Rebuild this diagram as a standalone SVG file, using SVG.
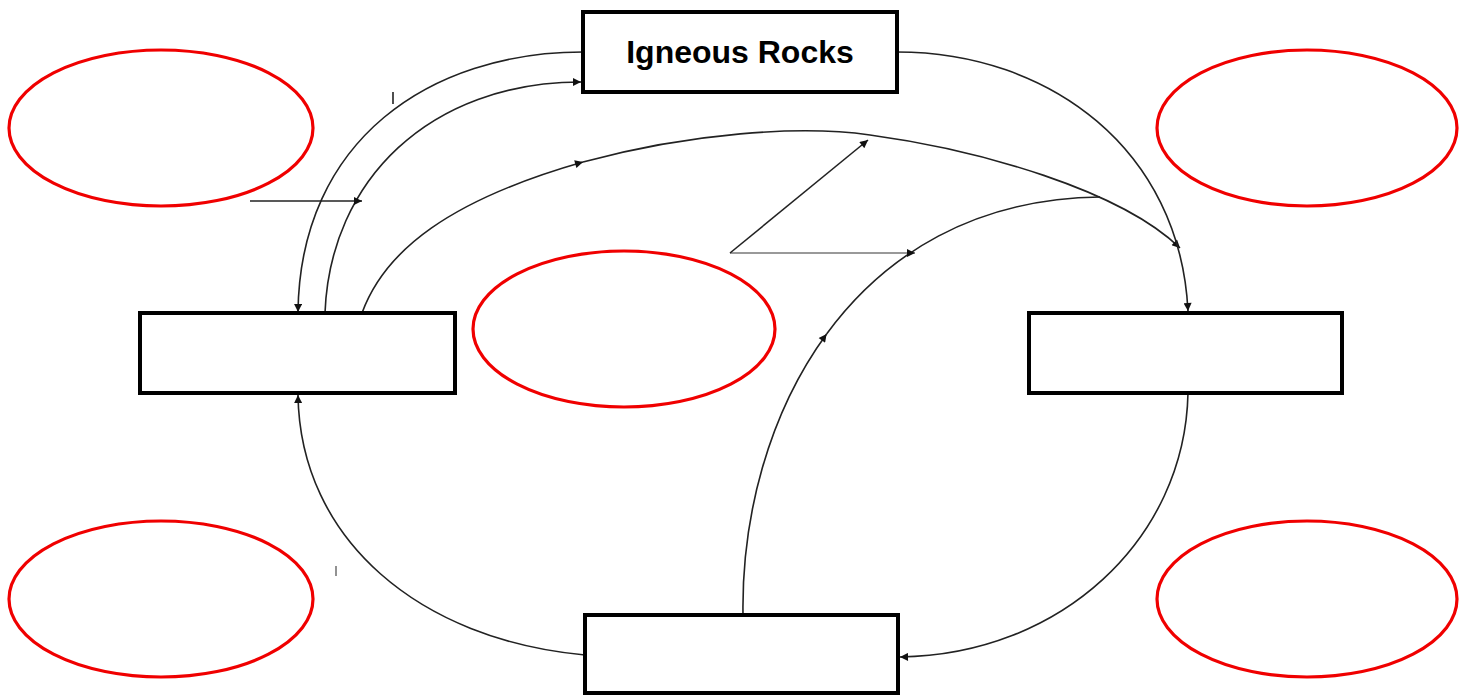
<svg xmlns="http://www.w3.org/2000/svg" width="1470" height="696" viewBox="0 0 1470 696">
<style>
.box{fill:#fff;stroke:#000;stroke-width:4}
.oval{fill:none;stroke:#f00000;stroke-width:3.2}
.con{fill:none;stroke:#222;stroke-width:1.6}
.grey{stroke:#777}
.lbl{font-family:"Liberation Sans",Arial,sans-serif;font-weight:bold;font-size:32px;fill:#000}
</style>
<defs>
<marker id="ah" viewBox="0 0 10 10" refX="10" refY="5" markerWidth="11" markerHeight="8" markerUnits="userSpaceOnUse" orient="auto">
<path d="M0,0 L10,5 L0,10 z" fill="#111"/>
</marker>
</defs>
<rect width="1470" height="696" fill="#fff"/>
<g id="connectors">
<path class="con" d="M583,52 C430,52 300,140 298,312" marker-end="url(#ah)"/>
<path class="con" d="M325,313 C330,180 430,82 581,82" marker-end="url(#ah)"/>
<path class="con" d="M250,201 L362,201" marker-end="url(#ah)"/>
<path class="con" d="M362,313 C385,250 450,200 583,162" marker-end="url(#ah)"/>
<path class="con" d="M583,162 C690,133 800,125 870,135 C980,150 1120,190 1180,248" marker-end="url(#ah)"/>
<path class="con" d="M897,52 C1050,52 1180,150 1188,311" marker-end="url(#ah)"/>
<path class="con" d="M743,615 C741.5,517.5 768.25,413.75 826.6,334" marker-end="url(#ah)"/>
<path class="con" d="M826.6,334 C885,254.25 975,198.5 1100,197"/>
<path class="con grey" d="M730,253 L915,253" marker-end="url(#ah)"/>
<path class="con" d="M730,253 L868,140" marker-end="url(#ah)"/>
<path class="con" d="M1188,393 C1185,540 1060,655 900,657" marker-end="url(#ah)"/>
<path class="con" d="M585,655 C420,640 300,540 298,395" marker-end="url(#ah)"/>
<path class="con" d="M393,92 L393,104"/>
<path class="con grey" d="M336,566 L336,576"/>
</g>
<g id="igneous"><rect class="box" x="583" y="12" width="314" height="80"/><text class="lbl" x="740" y="63" text-anchor="middle">Igneous Rocks</text></g>
<g id="box-left"><rect class="box" x="140" y="313" width="315" height="80"/></g>
<g id="box-right"><rect class="box" x="1029" y="313" width="313" height="80"/></g>
<g id="box-bottom"><rect class="box" x="585" y="615" width="313" height="78"/></g>
<g id="oval-tl"><ellipse class="oval" cx="161" cy="128" rx="152" ry="78"/></g>
<g id="oval-tr"><ellipse class="oval" cx="1307" cy="128" rx="150" ry="78"/></g>
<g id="oval-center"><ellipse class="oval" cx="624" cy="329" rx="151" ry="78"/></g>
<g id="oval-bl"><ellipse class="oval" cx="161" cy="599" rx="152" ry="78"/></g>
<g id="oval-br"><ellipse class="oval" cx="1307" cy="599" rx="150" ry="78"/></g>
</svg>
